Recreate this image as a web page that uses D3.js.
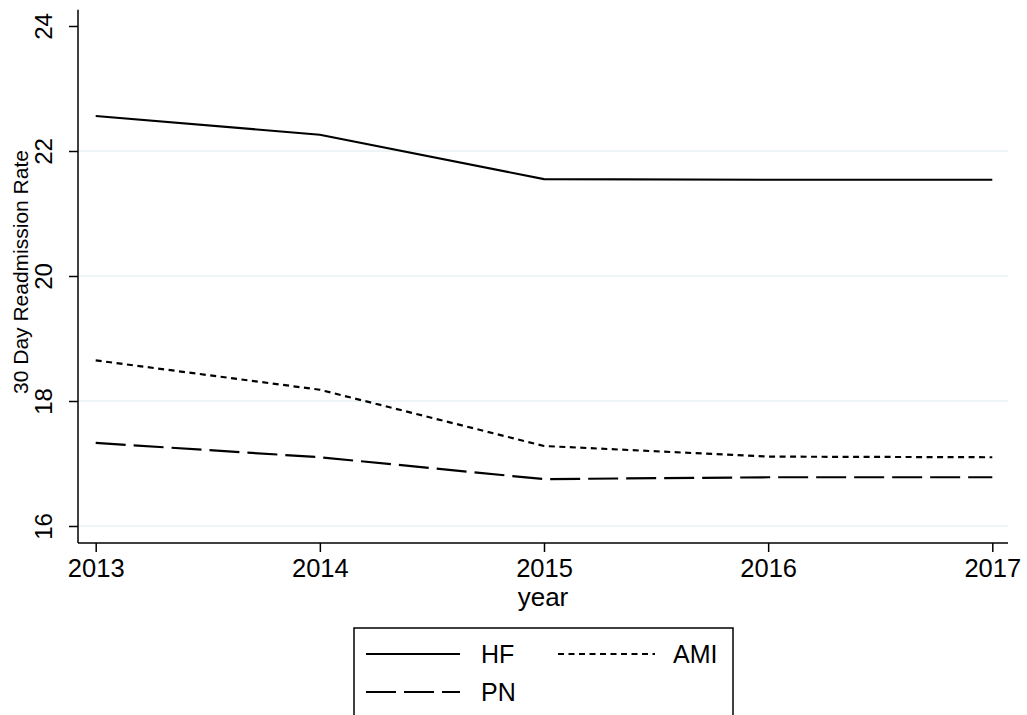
<!DOCTYPE html>
<html><head><meta charset="utf-8">
<script src="https://cdn.jsdelivr.net/npm/d3@7"></script>
<style>body{margin:0;background:#fff}svg{display:block;font-family:"Liberation Sans",Arial,sans-serif}</style>
</head><body>
<script>
const years = [2013, 2014, 2015, 2016, 2017];
const hf  = [22.56, 22.26, 21.55, 21.54, 21.54];
const ami = [18.65, 18.18, 17.28, 17.11, 17.10];
const pn  = [17.33, 17.10, 16.75, 16.78, 16.78];
const yTicks = [16, 18, 20, 22, 24];
const seriesNames = ["HF", "AMI", "PN"];

(function(){
const W = 1027, H = 715;
const FONT = "Liberation Sans, Arial, sans-serif";
const svg = d3.select("body").append("svg").attr("width", W).attr("height", H);

const x = d3.scaleLinear().domain([2013, 2017]).range([95.7, 992.3]);
const y = d3.scaleLinear().domain([16, 24]).range([526, 26]);
const pLeft = 78, pRight = 1008, pTop = y(24.26), pBottom = 543;

// grid
svg.append("g").selectAll("line").data(yTicks.filter(d => d < 24)).join("line")
  .attr("x1", pLeft).attr("x2", pRight).attr("y1", d => y(d)).attr("y2", d => y(d))
  .attr("stroke", "#eaf2f3").attr("stroke-width", 1.5);

// y axis
const ya = svg.append("g").attr("transform", `translate(${pLeft},0)`)
  .call(d3.axisLeft(y).tickValues(yTicks).tickSize(9).tickFormat(d3.format("d")))
  .attr("font-family", FONT);
ya.select(".domain").attr("d", `M0,${pTop}V${pBottom}`).attr("stroke", "#000").attr("stroke-width", 1.5);
ya.selectAll(".tick line").attr("stroke", "#000").attr("stroke-width", 1.5);
ya.selectAll(".tick text").attr("font-size", 24).attr("fill", "#000")
  .attr("text-anchor", "middle").attr("x", null).attr("dy", null)
  .attr("transform", "translate(-26,0) rotate(-90)").attr("y", 0);

// x axis
const xa = svg.append("g").attr("transform", `translate(0,${pBottom})`)
  .call(d3.axisBottom(x).tickValues(years).tickSize(9).tickFormat(d3.format("d")))
  .attr("font-family", FONT);
xa.select(".domain").attr("d", `M${pLeft},0H${pRight}`).attr("stroke", "#000").attr("stroke-width", 1.5);
xa.selectAll(".tick line").attr("stroke", "#000").attr("stroke-width", 1.5);
xa.selectAll(".tick text").attr("font-size", 25.5).attr("fill", "#000").attr("dy", null).attr("y", 34);

// axis titles
svg.append("text").attr("x", 543).attr("y", 606).attr("text-anchor", "middle")
  .attr("font-size", 26).text("year");
svg.append("text").attr("transform", `translate(28,272) rotate(-90)`)
  .attr("text-anchor", "middle").attr("font-size", 21).text("30 Day Readmission Rate");

// lines
const styles = {HF: null, AMI: "6,4.5", PN: "30,8"};
const data = {HF: hf, AMI: ami, PN: pn};
const line = d3.line().x((d, i) => x(years[i])).y(d => y(d));
seriesNames.forEach(n => {
  svg.append("path").datum(data[n]).attr("d", line)
    .attr("fill", "none").attr("stroke", "#000").attr("stroke-width", 2.2)
    .attr("stroke-dasharray", styles[n]);
});

// legend
const lg = svg.append("g");
lg.append("rect").attr("x", 354).attr("y", 628).attr("width", 379).attr("height", 100)
  .attr("fill", "#fff").attr("stroke", "#000").attr("stroke-width", 1.5);
const items = [
  {n: "HF", x1: 366, x2: 460, ty: 654, tx: 481},
  {n: "AMI", x1: 558, x2: 655, ty: 654, tx: 673},
  {n: "PN", x1: 366, x2: 460, ty: 692, tx: 481}
];
items.forEach(it => {
  lg.append("line").attr("x1", it.x1).attr("x2", it.x2).attr("y1", it.ty).attr("y2", it.ty)
    .attr("stroke", "#000").attr("stroke-width", 2.2).attr("stroke-dasharray", styles[it.n]);
  lg.append("text").attr("x", it.tx).attr("y", it.ty + 9).attr("font-size", 25).text(it.n);
});
})();
</script>
</body></html>
